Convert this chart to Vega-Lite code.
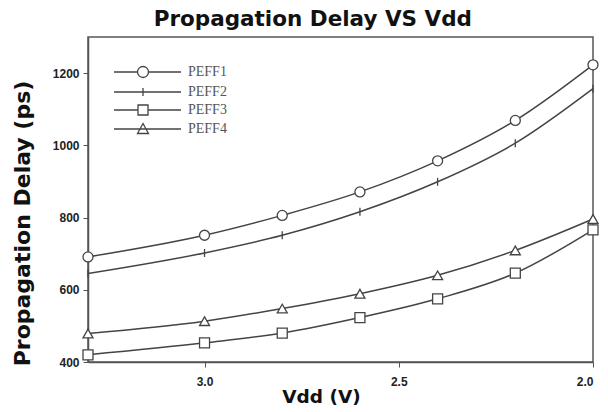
{
  "$schema": "https://vega.github.io/schema/vega-lite/v6.json",
  "width": 505,
  "height": 325,
  "autosize": {"type": "none"},
  "padding": {"left": 88, "top": 37, "right": 15, "bottom": 50},
  "background": "white",
  "title": {
    "text": "Propagation Delay VS Vdd",
    "font": "DejaVu Sans",
    "fontSize": 21.5,
    "fontWeight": "bold",
    "color": "#111",
    "anchor": "middle",
    "frame": "bounds",
    "dx": 7,
    "offset": 7
  },
  "config": {
    "view": {"stroke": "#555", "strokeWidth": 1.5},
    "axis": {
      "labelFont": "Liberation Sans",
      "labelFontWeight": "bold",
      "labelFontSize": 12,
      "labelColor": "#222",
      "titleFont": "DejaVu Sans",
      "titleFontWeight": "bold",
      "titleColor": "#111",
      "domainColor": "#555",
      "domainWidth": 1.5,
      "tickColor": "#555",
      "tickSize": 5,
      "grid": false
    }
  },
  "data": {
    "values": [
      {"series": "PEFF1", "vdd": 3.3, "delay": 691},
      {"series": "PEFF1", "vdd": 3.0, "delay": 751},
      {"series": "PEFF1", "vdd": 2.8, "delay": 806},
      {"series": "PEFF1", "vdd": 2.6, "delay": 871},
      {"series": "PEFF1", "vdd": 2.4, "delay": 957},
      {"series": "PEFF1", "vdd": 2.2, "delay": 1069},
      {"series": "PEFF1", "vdd": 2.0, "delay": 1223},
      {"series": "PEFF2", "vdd": 3.3, "delay": 645},
      {"series": "PEFF2", "vdd": 3.0, "delay": 702},
      {"series": "PEFF2", "vdd": 2.8, "delay": 751},
      {"series": "PEFF2", "vdd": 2.6, "delay": 816},
      {"series": "PEFF2", "vdd": 2.4, "delay": 899},
      {"series": "PEFF2", "vdd": 2.2, "delay": 1006},
      {"series": "PEFF2", "vdd": 2.0, "delay": 1157},
      {"series": "PEFF3", "vdd": 3.3, "delay": 420},
      {"series": "PEFF3", "vdd": 3.0, "delay": 453},
      {"series": "PEFF3", "vdd": 2.8, "delay": 480},
      {"series": "PEFF3", "vdd": 2.6, "delay": 523},
      {"series": "PEFF3", "vdd": 2.4, "delay": 575},
      {"series": "PEFF3", "vdd": 2.2, "delay": 646},
      {"series": "PEFF3", "vdd": 2.0, "delay": 766},
      {"series": "PEFF4", "vdd": 3.3, "delay": 479},
      {"series": "PEFF4", "vdd": 3.0, "delay": 513},
      {"series": "PEFF4", "vdd": 2.8, "delay": 548},
      {"series": "PEFF4", "vdd": 2.6, "delay": 589},
      {"series": "PEFF4", "vdd": 2.4, "delay": 640},
      {"series": "PEFF4", "vdd": 2.2, "delay": 709},
      {"series": "PEFF4", "vdd": 2.0, "delay": 796}
    ]
  },
  "encoding": {
    "x": {
      "field": "vdd",
      "type": "quantitative",
      "scale": {"domain": [3.3, 2.0], "nice": false, "zero": false},
      "axis": {
        "title": "Vdd (V)",
        "values": [3.0, 2.5, 2.0],
        "format": ".1f",
        "labelPadding": 9,
        "titleFontSize": 18.5,
        "titleX": 233,
        "titleY": 34,
        "titleBaseline": "middle"
      }
    },
    "y": {
      "field": "delay",
      "type": "quantitative",
      "scale": {"domain": [400, 1300], "nice": false, "zero": false},
      "axis": {
        "title": "Propagation Delay (ps)",
        "values": [400, 600, 800, 1000, 1200],
        "format": "d",
        "labelPadding": 4,
        "titleFontSize": 22,
        "titleX": -66,
        "titleY": 186,
        "titleBaseline": "middle",
        "titleAlign": "center"
      }
    }
  },
  "layer": [
    {
      "mark": {"type": "line", "interpolate": "monotone", "strokeWidth": 1.5},
      "encoding": {
        "color": {
          "field": "series",
          "type": "nominal",
          "scale": {"range": ["#444", "#444", "#444", "#444"]},
          "legend": {
            "title": null,
            "orient": "none",
            "legendX": 25,
            "legendY": 24,
            "padding": 0,
            "rowPadding": 0,
            "symbolSize": 400,
            "symbolStrokeWidth": 1.3,
            "symbolStrokeColor": "#555",
            "symbolFillColor": "transparent",
            "labelFont": "Liberation Serif",
            "labelFontSize": 14,
            "labelColor": "#555",
            "labelOffset": 53,
            "encode": {
              "symbols": {
                "update": {
                  "shape": {"signal": "datum.value === 'PEFF1' ? 'M-1,0H1.35M2.45,0H5.7M1.35,0A0.55,0.55 0 1,1 2.45,0A0.55,0.55 0 1,1 1.35,0' : datum.value === 'PEFF2' ? 'M-1,0H5.7M1.9,-0.4V0.4' : datum.value === 'PEFF3' ? 'M-1,0H1.4M2.4,0H5.7M1.4,-0.5H2.4V0.5H1.4Z' : 'M-1,0H5.7M1.9,-0.55L2.45,0.45H1.35Z'"},
                  "stroke": {"value": "#555"},
                  "fill": {"value": "transparent"}
                }
              }
            }
          }
        }
      }
    },
    {
      "mark": {"type": "point", "filled": false, "fill": "white", "fillOpacity": 1, "stroke": "#444", "strokeWidth": 1.3, "size": 100, "opacity": 1},
      "encoding": {
        "shape": {
          "field": "series",
          "type": "nominal",
          "scale": {"range": ["circle", "M0,-0.8V0.8", "square", "triangle-up"]},
          "legend": null
        }
      }
    }
  ]
}
